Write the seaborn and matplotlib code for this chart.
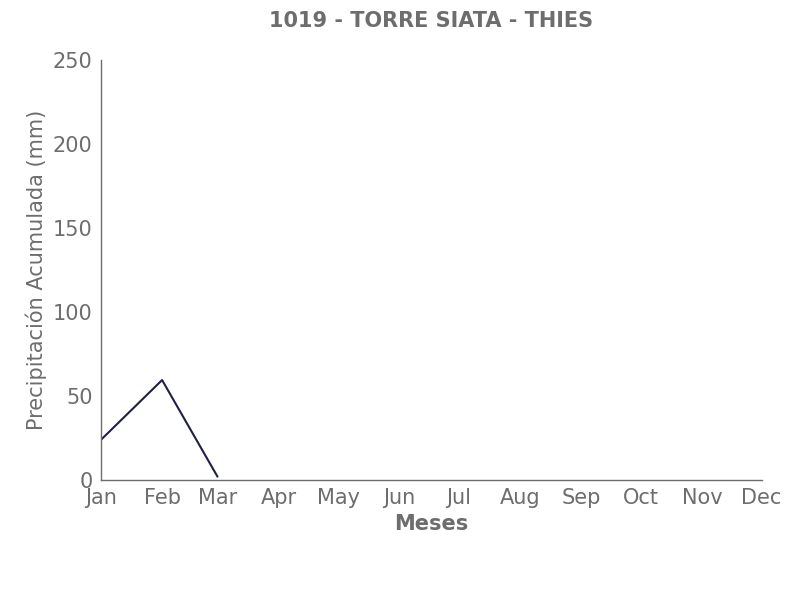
import numpy as np
import pandas as pd
import matplotlib.pyplot as plt
import matplotlib.dates as mdates
import seaborn as sns

# datos
fechas = ["2023-01-01", "2023-02-01", "2023-03-01"]
precip = [23.8, 59.5, 2.0]

df = pd.DataFrame({"Fecha": pd.to_datetime(fechas), "Precipitacion": precip})

sns.set_style("white")
plt.rcParams["font.family"] = ["DejaVu Sans"]
gris = "#6d6d6d"

fig, ax = plt.subplots(figsize=(8.06, 6), dpi=100)
fig.subplots_adjust(left=0.125, right=0.945, top=0.9, bottom=0.2)

sns.lineplot(data=df, x="Fecha", y="Precipitacion", color="#1f1f47", linewidth=1.5, ax=ax)

ax.set_xlim(pd.Timestamp("2023-01-01"), pd.Timestamp("2023-12-01"))
ax.set_ylim(0, 250)
ax.xaxis.set_major_locator(mdates.MonthLocator())
ax.xaxis.set_major_formatter(mdates.DateFormatter("%b"))

sns.despine(ax=ax)
for s in ["left", "bottom"]:
    ax.spines[s].set_color(gris)
    ax.spines[s].set_linewidth(1)

ax.tick_params(axis="both", direction="in", length=4, color=gris, labelcolor=gris, labelsize=15)
ax.tick_params(axis="x", pad=6)
ax.tick_params(axis="y", pad=6)
ax.set_xlabel("Meses", fontsize=15, fontweight="bold", color=gris, labelpad=4)
ax.set_ylabel("Precipitación Acumulada (mm)", fontsize=15, color=gris, labelpad=4)
ax.set_title("1019 - TORRE SIATA - THIES", fontsize=15, fontweight="bold", color=gris, pad=24)

fig.savefig("out.png", dpi=100)
